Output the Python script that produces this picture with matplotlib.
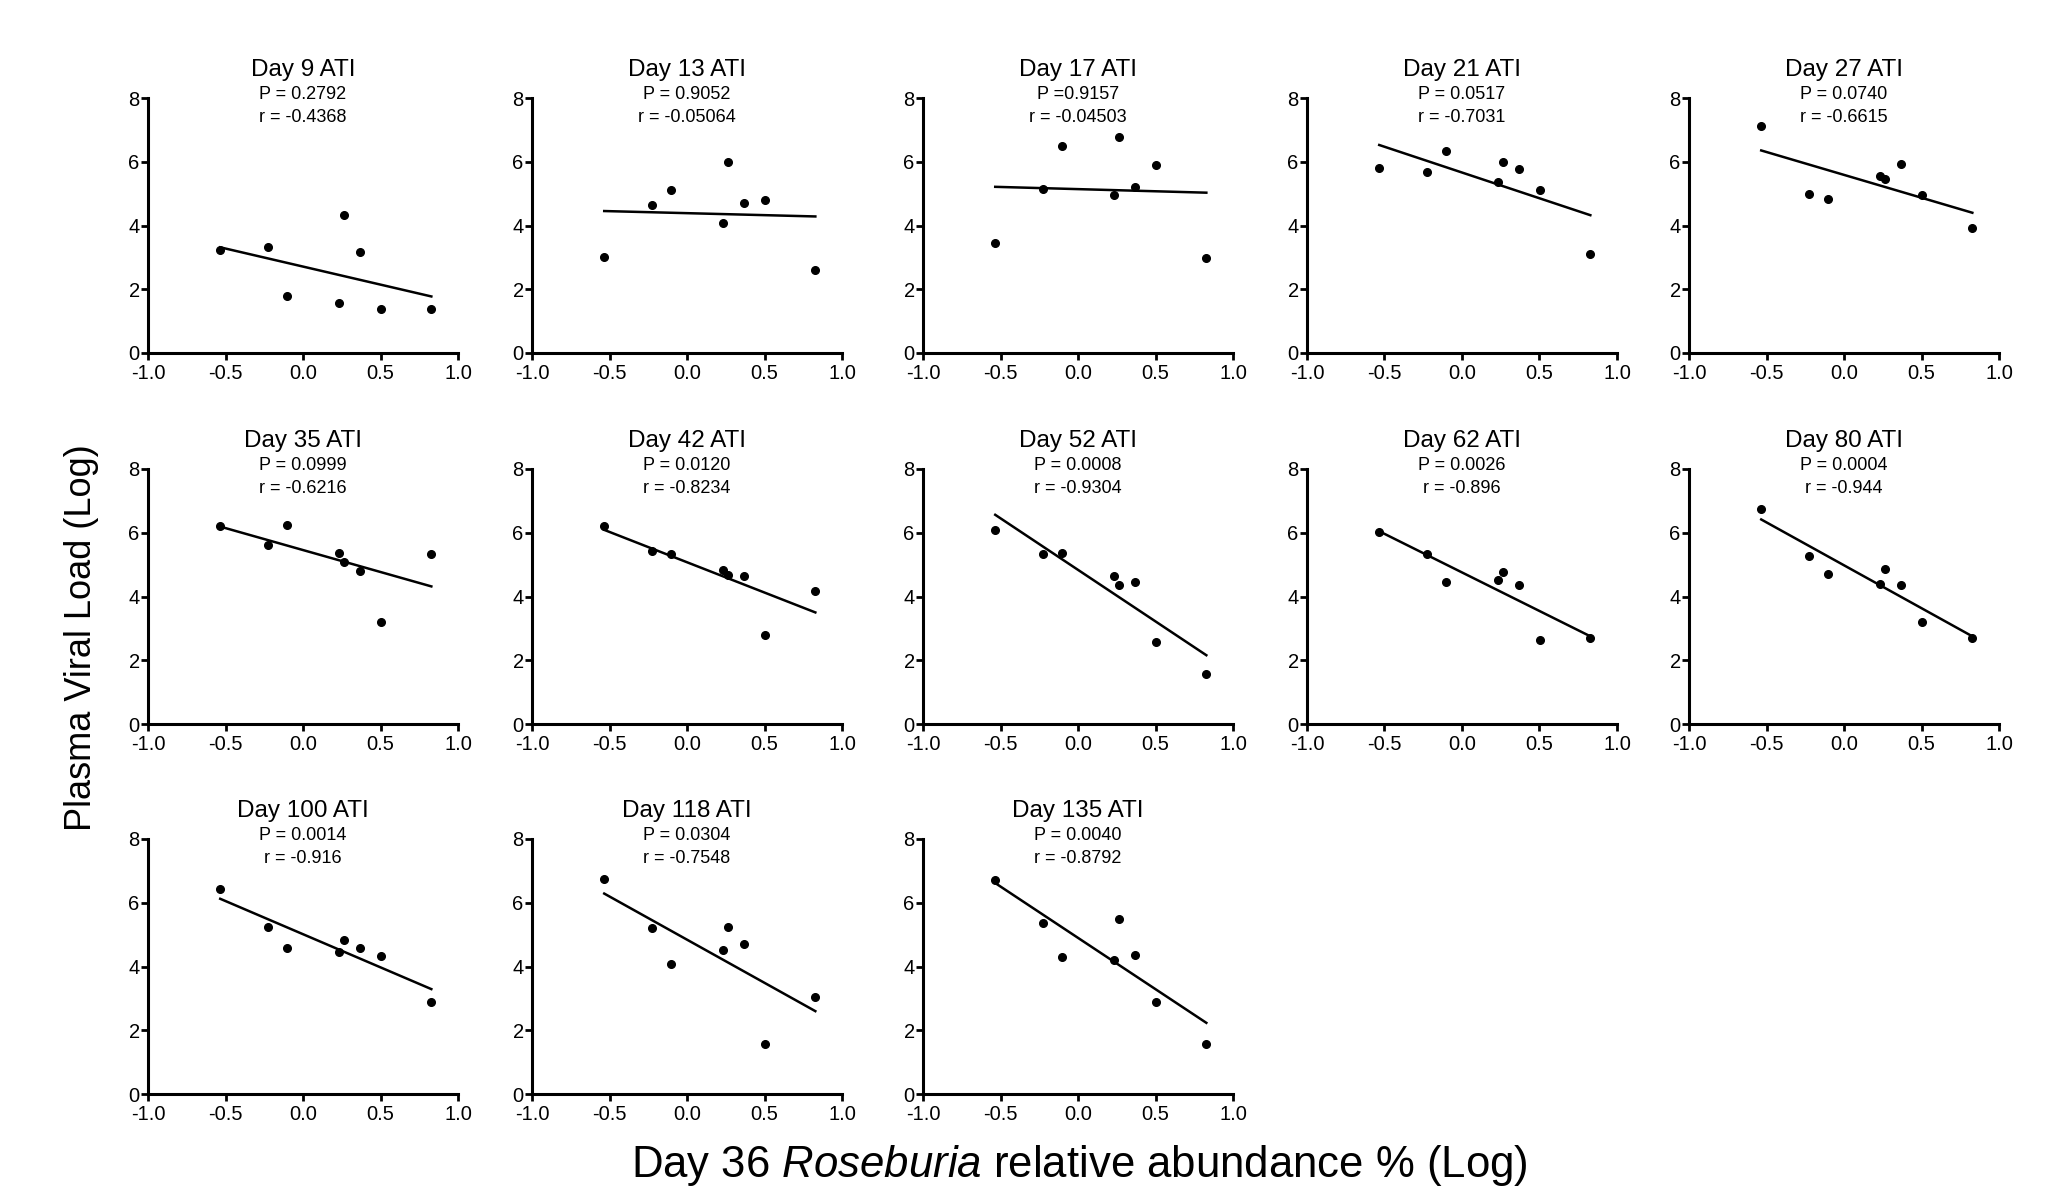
import numpy as np
import matplotlib.pyplot as plt

plt.rcParams['font.family'] = ['Liberation Sans', 'DejaVu Sans']
plt.rcParams['mathtext.fontset'] = 'custom'
plt.rcParams['mathtext.rm'] = 'Liberation Sans'
plt.rcParams['mathtext.it'] = 'Liberation Sans:italic'

# Day 36 Roseburia abundance (log), same animals in every panel
abundance = [-0.534, -0.223, -0.105, 0.232, 0.266, 0.367, 0.504, 0.828]

days = ["Day 9 ATI", "Day 13 ATI", "Day 17 ATI", "Day 21 ATI", "Day 27 ATI",
        "Day 35 ATI", "Day 42 ATI", "Day 52 ATI", "Day 62 ATI", "Day 80 ATI",
        "Day 100 ATI", "Day 118 ATI", "Day 135 ATI"]

p_labels = ["P = 0.2792", "P = 0.9052", "P =0.9157", "P = 0.0517", "P = 0.0740",
            "P = 0.0999", "P = 0.0120", "P = 0.0008", "P = 0.0026", "P = 0.0004",
            "P = 0.0014", "P = 0.0304", "P = 0.0040"]
r_labels = ["r = -0.4368", "r = -0.05064", "r = -0.04503", "r = -0.7031", "r = -0.6615",
            "r = -0.6216", "r = -0.8234", "r = -0.9304", "r = -0.896", "r = -0.944",
            "r = -0.916", "r = -0.7548", "r = -0.8792"]

viral_load = [
    [3.22, 3.32, 1.80, 1.58, 4.33, 3.17, 1.38, 1.38],
    [3.00, 4.65, 5.10, 4.07, 5.99, 4.72, 4.81, 2.59],
    [3.44, 5.16, 6.49, 4.96, 6.78, 5.22, 5.91, 2.99],
    [5.81, 5.68, 6.33, 5.36, 5.98, 5.76, 5.12, 3.10],
    [7.13, 4.99, 4.83, 5.54, 5.47, 5.94, 4.97, 3.92],
    [6.21, 5.61, 6.24, 5.35, 5.08, 4.80, 3.20, 5.33],
    [6.20, 5.43, 5.34, 4.82, 4.66, 4.65, 2.80, 4.16],
    [6.10, 5.32, 5.35, 4.64, 4.36, 4.46, 2.58, 1.56],
    [6.03, 5.34, 4.44, 4.53, 4.77, 4.36, 2.64, 2.70],
    [6.74, 5.28, 4.71, 4.38, 4.87, 4.36, 3.20, 2.70],
    [6.43, 5.25, 4.59, 4.45, 4.82, 4.58, 4.32, 2.89],
    [6.74, 5.22, 4.09, 4.53, 5.24, 4.70, 1.56, 3.04],
    [6.72, 5.35, 4.31, 4.19, 5.48, 4.36, 2.90, 1.58],
]

W, H = 2063, 1197
fig = plt.figure(figsize=(W / 100, H / 100), dpi=100)

col_left = [148, 532, 923, 1307, 1689]
row_top = [98, 469, 839]
aw, ah = 310, 255

x = np.array(abundance)
for i, name in enumerate(days):
    r, c = divmod(i, 5)
    left = col_left[c] / W
    bottom = 1 - (row_top[r] + ah) / H
    ax = fig.add_axes([left, bottom, aw / W, ah / H])
    y = np.array(viral_load[i])

    # least-squares line over the observed x range
    slope, icpt = np.polyfit(x, y, 1)
    xs = np.array([x.min(), x.max()])
    ax.plot(xs, slope * xs + icpt, color='black', lw=1.8, clip_on=False)
    ax.plot(x, y, 'o', color='black', ms=5.5, clip_on=False, zorder=3)

    ax.set_xlim(-1, 1)
    ax.set_ylim(0, 8)
    ax.set_xticks([-1.0, -0.5, 0.0, 0.5, 1.0])
    ax.set_xticklabels(['-1.0', '-0.5', '0.0', '0.5', '1.0'])
    ax.set_yticks([0, 2, 4, 6, 8])
    for s in ['top', 'right']:
        ax.spines[s].set_visible(False)
    for s in ['left', 'bottom']:
        ax.spines[s].set_linewidth(2.2)
    ax.tick_params(width=2, length=5, labelsize=14.5, pad=1)
    ax.tick_params(axis='x', pad=3)

    ax.text(0.5, 1.11, name, transform=ax.transAxes, ha='center', va='center', fontsize=17.5)
    ax.text(0.5, 1.012, p_labels[i], transform=ax.transAxes, ha='center', va='center', fontsize=13)
    ax.text(0.5, 0.925, r_labels[i], transform=ax.transAxes, ha='center', va='center', fontsize=13)

fig.text(82 / W, 1 - 638 / H, "Plasma Viral Load (Log)", rotation=90,
         ha='center', va='center', fontsize=26)
fig.text(1079 / W, 1 - 1165 / H, r"Day 36 $\it{Roseburia}$ relative abundance % (Log)",
         ha='center', va='center', fontsize=31.5)

fig.savefig('out.png', dpi=100)
